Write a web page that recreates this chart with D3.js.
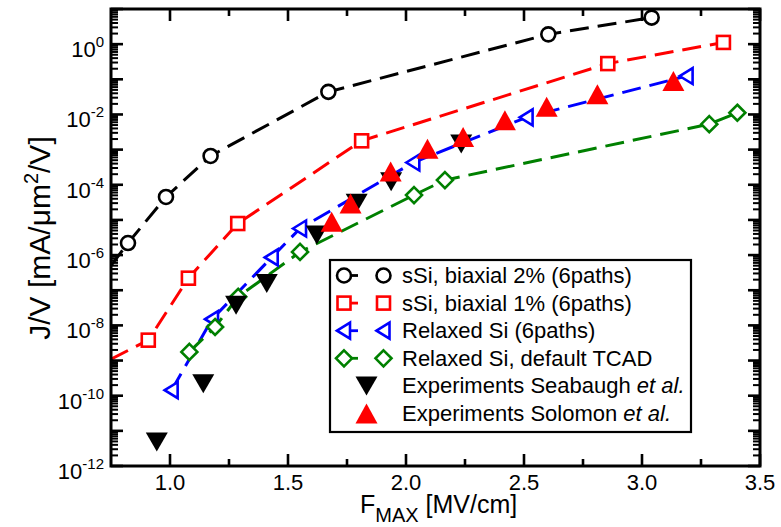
<!DOCTYPE html>
<html>
<head>
<meta charset="utf-8">
<script src="https://cdn.jsdelivr.net/npm/d3@7"></script>
<style>
  html, body { margin: 0; padding: 0; background: #fff; }
  svg { display: block; font-family: "Liberation Sans", Arial, Helvetica, sans-serif; }
</style>
</head>
<body>
<svg id="chart" width="781" height="527"></svg>
<script>
// Field (MV/cm) and J/V (mA/um^2/V) for each simulated and measured set
const ss2X = [0.822, 0.983, 1.172, 1.671, 2.603, 3.041];
const ss2Y = [2.2e-6, 4.5e-5, 6.6e-4, 0.044, 1.9, 5.7];
const ss2LeadX = 0.75, ss2LeadY = 5.0e-7;

const ss1X = [0.908, 1.078, 1.287, 1.812, 2.855, 3.345];
const ss1Y = [3.8e-9, 2.2e-7, 7.9e-6, 1.78e-3, 0.28, 1.12];
const ss1LeadX = 0.75, ss1LeadY = 1.1e-9;

const relX = [1.007, 1.178, 1.431, 1.551, 2.031, 2.511, 3.189];
const relY = [1.43e-10, 1.5e-8, 8.6e-7, 5.7e-6, 4.3e-4, 8.3e-3, 0.124];

const tcadX = [1.082, 1.191, 1.289, 1.551, 2.034, 2.165, 3.285, 3.404];
const tcadY = [1.76e-9, 9.0e-9, 6.5e-8, 1.23e-6, 5.1e-5, 1.36e-4, 5.3e-3, 0.0112];

const seabX = [0.944, 1.141, 1.280, 1.410, 1.622, 1.791, 1.937, 2.234];
const seabY = [4.8e-12, 2.2e-10, 3.75e-8, 1.56e-7, 3.7e-6, 3.0e-5, 1.21e-4, 1.44e-3];

const solX = [1.685, 1.765, 1.935, 2.091, 2.242, 2.419, 2.596, 2.811, 3.133];
const solY = [8.8e-6, 2.94e-5, 2.4e-4, 1.05e-3, 2.3e-3, 6.9e-3, 0.0166, 0.0373, 0.089];

const xTicks = [1.0, 1.5, 2.0, 2.5, 3.0, 3.5];
const xMinorTicks = [1.25, 1.75, 2.25, 2.75, 3.25];
const yLabelExps = [0, -2, -4, -6, -8, -10, -12];

const legendLabels = [
  "sSi, biaxial 2% (6paths)",
  "sSi, biaxial 1% (6paths)",
  "Relaxed Si (6paths)",
  "Relaxed Si, default TCAD",
  "Experiments Seabaugh",
  "Experiments Solomon"
];

const svg = d3.select("#chart");
const L = 111, R = 760, T = 9, B = 466;
const x = d3.scaleLinear().domain([0.75, 3.5]).range([L, R]);
const y = d3.scaleLog().domain([1e-12, 10]).range([B, T]);

const zip = (xs, ys) => xs.map((v, i) => [v, ys[i]]);

// clip for the data
svg.append("defs").append("clipPath").attr("id", "plotclip")
  .append("rect").attr("x", L).attr("y", T).attr("width", R - L).attr("height", B - T);

const plot = svg.append("g").attr("clip-path", "url(#plotclip)");

const line = d3.line().x(d => x(d[0])).y(d => y(d[1]));

const series = [
  { pts: zip(ss2X, ss2Y), lead: [ss2LeadX, ss2LeadY], color: "#000000", shape: "circle" },
  { pts: zip(ss1X, ss1Y), lead: [ss1LeadX, ss1LeadY], color: "#ff0000", shape: "square" },
  { pts: zip(relX, relY), lead: null, color: "#0000ff", shape: "left" },
  { pts: zip(tcadX, tcadY), lead: null, color: "#008000", shape: "diamond" }
];

series.forEach(s => {
  const curve = s.lead ? [s.lead].concat(s.pts) : s.pts;
  plot.append("path")
    .attr("d", line(curve))
    .attr("fill", "none")
    .attr("stroke", s.color)
    .attr("stroke-width", 3)
    .attr("stroke-dasharray", "19,9");
});

function drawMarker(g, shape, cx, cy, color) {
  const sw = 2.6;
  if (shape === "circle") {
    g.append("circle").attr("cx", cx).attr("cy", cy).attr("r", 7)
      .attr("fill", "#fff").attr("stroke", color).attr("stroke-width", sw);
  } else if (shape === "square") {
    g.append("rect").attr("x", cx - 6.5).attr("y", cy - 6.5).attr("width", 13).attr("height", 13)
      .attr("fill", "#fff").attr("stroke", color).attr("stroke-width", sw);
  } else if (shape === "left") {
    g.append("path").attr("d", `M${cx - 7},${cy} L${cx + 6},${cy - 8} L${cx + 6},${cy + 8} Z`)
      .attr("fill", "#fff").attr("stroke", color).attr("stroke-width", sw).attr("stroke-linejoin", "miter");
  } else if (shape === "diamond") {
    g.append("path").attr("d", `M${cx},${cy - 8} L${cx + 8},${cy} L${cx},${cy + 8} L${cx - 8},${cy} Z`)
      .attr("fill", "#fff").attr("stroke", color).attr("stroke-width", sw);
  } else if (shape === "down") {
    g.append("path").attr("d", `M${cx - 11},${cy - 9.5} L${cx + 11},${cy - 9.5} L${cx},${cy + 9.5} Z`)
      .attr("fill", color);
  } else if (shape === "up") {
    g.append("path").attr("d", `M${cx - 11},${cy + 10} L${cx + 11},${cy + 10} L${cx},${cy - 10} Z`)
      .attr("fill", color);
  }
}

series.forEach(s => {
  const g = plot.append("g");
  s.pts.forEach(d => drawMarker(g, s.shape, x(d[0]), y(d[1]), s.color));
});

const gSeab = plot.append("g");
zip(seabX, seabY).forEach(d => drawMarker(gSeab, "down", x(d[0]), y(d[1]), "#000"));
const gSol = plot.append("g");
zip(solX, solY).forEach(d => drawMarker(gSol, "up", x(d[0]), y(d[1]), "#ff0000"));

// axes: ticks point inward on all four sides
const axes = svg.append("g").attr("stroke", "#000");
const decades = d3.range(-12, 2);
const majorY = decades.map(e => Math.pow(10, e));
const minorY = [];
decades.slice(0, -1).forEach(e => { for (let k = 2; k <= 9; k++) minorY.push(k * Math.pow(10, e)); });

const MAJ = 12, MIN = 7;
majorY.forEach(v => {
  const py = y(v);
  axes.append("line").attr("x1", L).attr("x2", L + MAJ).attr("y1", py).attr("y2", py).attr("stroke-width", 2.6);
  axes.append("line").attr("x1", R).attr("x2", R - MAJ).attr("y1", py).attr("y2", py).attr("stroke-width", 2.6);
});
minorY.forEach(v => {
  const py = y(v);
  axes.append("line").attr("x1", L).attr("x2", L + MIN).attr("y1", py).attr("y2", py).attr("stroke-width", 2);
  axes.append("line").attr("x1", R).attr("x2", R - MIN).attr("y1", py).attr("y2", py).attr("stroke-width", 2);
});
xTicks.forEach(v => {
  const px = x(v);
  axes.append("line").attr("x1", px).attr("x2", px).attr("y1", B).attr("y2", B - MAJ).attr("stroke-width", 2.6);
  axes.append("line").attr("x1", px).attr("x2", px).attr("y1", T).attr("y2", T + MAJ).attr("stroke-width", 2.6);
});
xMinorTicks.forEach(v => {
  const px = x(v);
  axes.append("line").attr("x1", px).attr("x2", px).attr("y1", B).attr("y2", B - MIN).attr("stroke-width", 2.6);
  axes.append("line").attr("x1", px).attr("x2", px).attr("y1", T).attr("y2", T + MIN).attr("stroke-width", 2.6);
});
axes.append("rect").attr("x", L).attr("y", T).attr("width", R - L).attr("height", B - T)
  .attr("fill", "none").attr("stroke-width", 3);

// tick labels
const tl = svg.append("g").attr("fill", "#000").attr("font-size", 22);
xTicks.forEach(v => {
  tl.append("text").attr("x", x(v)).attr("y", 490).attr("text-anchor", "middle").text(d3.format(".1f")(v));
});
yLabelExps.forEach(e => {
  const t = tl.append("text").attr("x", 104).attr("y", y(Math.pow(10, e)) + 13).attr("text-anchor", "end");
  t.append("tspan").text("10");
  t.append("tspan").attr("dy", -10).attr("font-size", 15).text(e === 0 ? "0" : "-" + Math.abs(e));
});

// axis titles
const xt = svg.append("text").attr("x", 360).attr("y", 513).attr("font-size", 25).attr("fill", "#000");
xt.append("tspan").text("F");
xt.append("tspan").attr("dy", 9).attr("font-size", 20).text("MAX");
xt.append("tspan").attr("dy", -9).text(" [MV/cm]");

const yt = svg.append("text").attr("transform", "translate(50,238) rotate(-90)")
  .attr("text-anchor", "middle").attr("font-size", 30).attr("fill", "#000");
yt.append("tspan").text("J/V [mA/\u03bcm");
yt.append("tspan").attr("dy", -12).attr("font-size", 20).text("2");
yt.append("tspan").attr("dy", 12).text("/V]");

// legend
const lg = svg.append("g");
lg.append("rect").attr("x", 330).attr("y", 260).attr("width", 361).attr("height", 172)
  .attr("fill", "#fff").attr("stroke", "#000").attr("stroke-width", 2.2);
const rowY = i => 275.5 + i * 27.6;
series.forEach((s, i) => {
  const cy = rowY(i);
  lg.append("line").attr("x1", 344).attr("x2", 358).attr("y1", cy).attr("y2", cy)
    .attr("stroke", s.color).attr("stroke-width", 2.8);
  drawMarker(lg, s.shape, 344, cy, s.color);
  drawMarker(lg, s.shape, 383.5, cy, s.color);
});
drawMarker(lg, "down", 366.5, rowY(4), "#000");
drawMarker(lg, "up", 366.5, rowY(5), "#ff0000");
legendLabels.forEach((txt, i) => {
  const t = lg.append("text").attr("x", 402).attr("y", rowY(i) + 7.5).attr("font-size", 22).attr("fill", "#000");
  t.append("tspan").text(txt);
  if (i >= 4) t.append("tspan").attr("font-style", "italic").text(" et al.");
});
</script>
</body>
</html>
